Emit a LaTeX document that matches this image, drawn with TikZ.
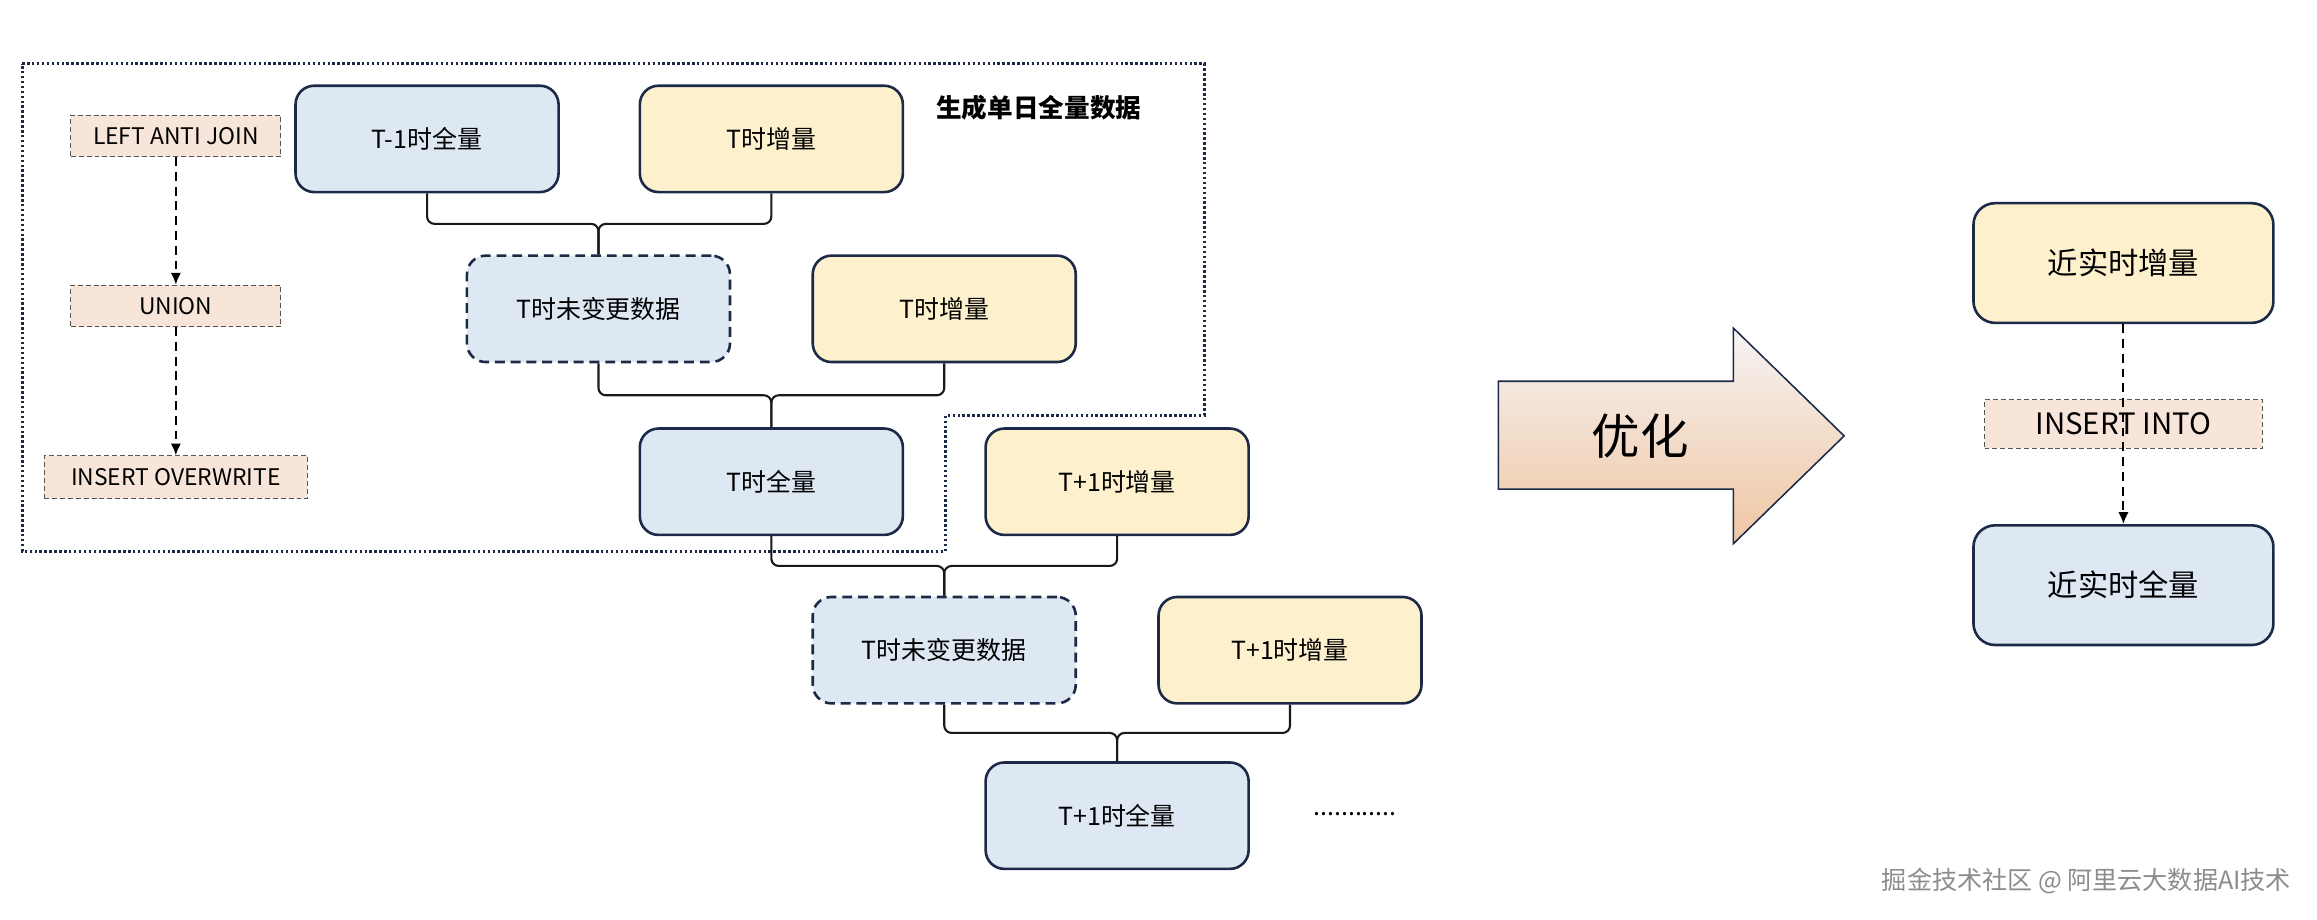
\documentclass[tikz,border=0pt]{standalone}
\usepackage{fontspec}
\setmainfont{Noto Sans CJK SC}
\usepackage{xcolor}
\usepackage{tikz}
\usetikzlibrary{calc,arrows.meta,positioning}
\definecolor{boxline}{HTML}{1C2A48}
\definecolor{fullblue}{HTML}{DEE8F3}
\definecolor{incyellow}{HTML}{FDF1CD}
\definecolor{oppeach}{HTML}{F8E5D9}
\definecolor{oplinegray}{HTML}{555555}
\definecolor{arrowtop}{HTML}{F6F3F4}
\definecolor{arrowmid}{HTML}{F4E4DA}
\definecolor{arrowbot}{HTML}{EFC6A2}
\tikzset{Full/.style={rectangle,rounded corners=3.8mm,draw=boxline,line width=1.5pt,fill=fullblue,
    minimum width=53.4mm,minimum height=21.6mm,inner sep=0pt,font=\fontsize{14.4}{17}\selectfont}}
\tikzset{Inc/.style={Full,fill=incyellow}}
\tikzset{Keep/.style={Full,dash pattern=on 2mm off 1.2mm}}
\tikzset{Op/.style={rectangle,draw=oplinegray,line width=0.6pt,dash pattern=on 1mm off 0.6mm,fill=oppeach,
    minimum width=42.6mm,minimum height=8.4mm,inner sep=0pt,font=\fontsize{13.2}{16}\selectfont}}
\tikzset{merge/.style={line width=1.2pt,draw=black!90,rounded corners=1.5mm}}
\tikzset{flow/.style={line width=1.1pt,dash pattern=on 1.8mm off 1.2mm,-{Latex[length=2.4mm,width=2.1mm]}}}

\begin{document}
\begin{tikzpicture}[x=0.3mm,y=-0.3mm]
    \useasboundingbox (0,0) rectangle (1568,622);
    % frame of one day
    \draw[boxline,line width=1.6pt,dash pattern=on 0.5mm off 0.5mm]
      (15,43) -- (815,43) -- (815,281) -- (640,281) -- (640,373) -- (15,373) -- cycle;
    \node[font=\fontsize{14.8}{18}\selectfont\bfseries] (title) at (703,73) {生成单日全量数据};
    % operators
    \node[Op] (laj) at (119,92) {LEFT ANTI JOIN};
    \node[Op] (uni) at (119,207) {UNION};
    \node[Op,minimum width=53.4mm,minimum height=8.7mm] (ovw) at (119,323) {INSERT OVERWRITE};
    \draw[flow] (laj) -- (uni);
    \draw[flow] (uni) -- (ovw);
    % daily chain
    \node[Full] (full0) at (289,94) {T-1时全量};
    \node[Inc] (inc0) at (522,94) {T时增量};
    \node[Keep] (keep1) at (405,209) {T时未变更数据};
    \node[Inc] (inc1) at (639,209) {T时增量};
    \node[Full] (full1) at (522,326) {T时全量};
    \node[Inc] (inc2) at (756,326) {T+1时增量};
    \node[Keep] (keep2) at (639,440) {T时未变更数据};
    \node[Inc] (inc3) at (873,440) {T+1时增量};
    \node[Full] (full2) at (756,552) {T+1时全量};
    \node[font=\fontsize{14.4}{17}\selectfont] (more) at (917,551) {............};
    \coordinate (j1) at ($(full0.south)!.5!(keep1.north)$);
    \coordinate (j2) at ($(keep1.south)!.5!(full1.north)$);
    \coordinate (j3) at ($(full1.south)!.5!(keep2.north)$);
    \coordinate (j4) at ($(keep2.south)!.5!(full2.north)$);
    \begin{scope}[merge]
      \draw (full0.south) |- (keep1.north |- j1) -- (keep1.north);
      \draw (inc0.south) |- (keep1.north |- j1) -- (keep1.north);
      \draw (keep1.south) |- (full1.north |- j2) -- (full1.north);
      \draw (inc1.south) |- (full1.north |- j2) -- (full1.north);
      \draw (full1.south) |- (keep2.north |- j3) -- (keep2.north);
      \draw (inc2.south) |- (keep2.north |- j3) -- (keep2.north);
      \draw (keep2.south) |- (full2.north |- j4) -- (full2.north);
      \draw (inc3.south) |- (full2.north |- j4) -- (full2.north);
    \end{scope}
    % optimise arrow
    \shade[draw=boxline,line width=0.9pt,top color=arrowtop,middle color=arrowmid,bottom color=arrowbot]
      (1014,258) -- (1173,258) -- (1173,222) -- (1248,295) -- (1173,368) -- (1173,331) -- (1014,331) -- cycle;
    \node[font=\fontsize{28}{32}\selectfont] (opt) at (1110,295) {优化};
    % near real time
    \node[Inc,minimum width=60.9mm,minimum height=24.3mm,rounded corners=4.4mm,font=\fontsize{17.5}{20}\selectfont] (nrinc) at (1437,178) {近实时增量};
    \node[Op,minimum width=56.4mm,minimum height=9.9mm,font=\fontsize{17}{20}\selectfont] (into) at (1437,287) {INSERT INTO};
    \node[Full,minimum width=60.9mm,minimum height=24.3mm,rounded corners=4.4mm,font=\fontsize{17.5}{20}\selectfont] (nrfull) at (1437,396) {近实时全量};
    \draw[flow] (nrinc) -- (nrfull);
    \node[text=black!45,font=\fontsize{14.5}{17}\selectfont] (mark) at (1412,596) {掘金技术社区 @ 阿里云大数据AI技术};
  \end{tikzpicture}
\end{document}
